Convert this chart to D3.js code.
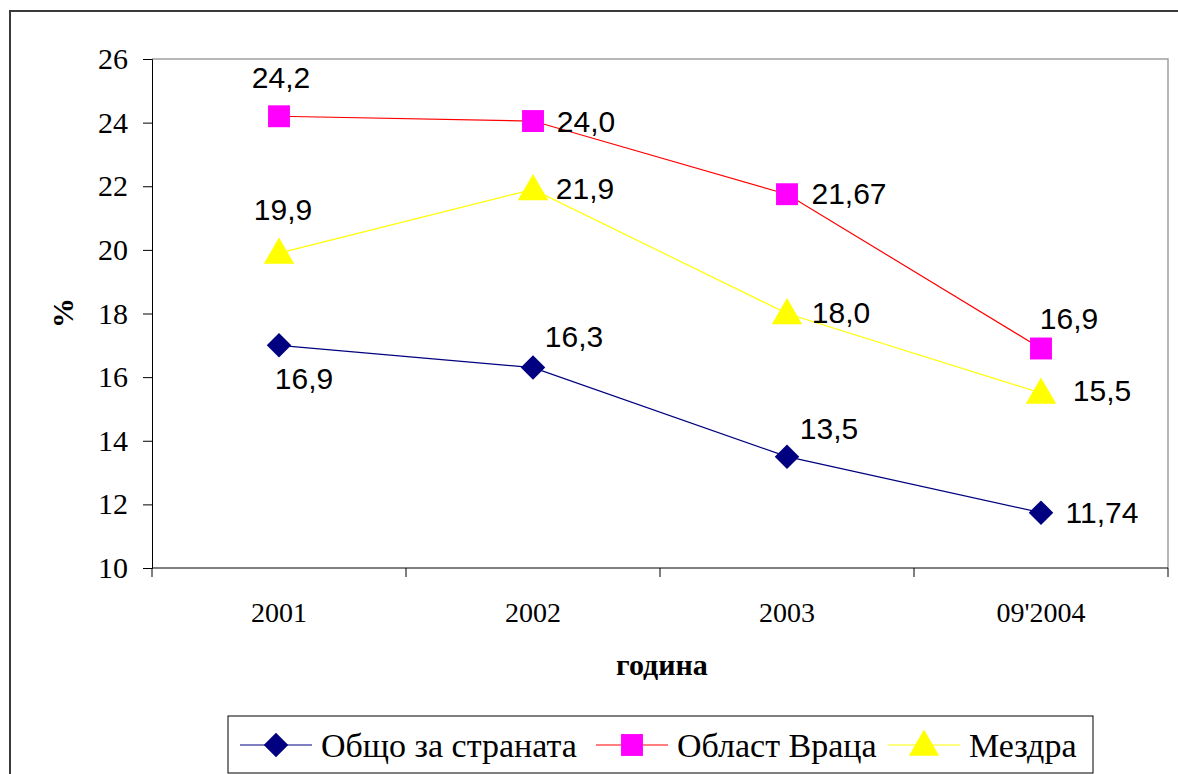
<!DOCTYPE html>
<html><head><meta charset="utf-8">
<script src="https://cdn.jsdelivr.net/npm/d3@7"></script>
<style>body{margin:0;background:#fff}svg{display:block}</style>
</head><body><svg id="c" width="1178" height="774"></svg>
<script>
const categories = ["2001", "2002", "2003", "09'2004"];
const yTicks = [10, 12, 14, 16, 18, 20, 22, 24, 26];
const seriesNames = ["Общо за страната", "Област Враца", "Мездра"];
const countryValues = [17.0, 16.3, 13.5, 11.74];
const vratsaValues = [24.2, 24.05, 21.75, 16.9];
const mezdraValues = [19.9, 21.9, 18.0, 15.5];
const countryLabels = ["16,9", "16,3", "13,5", "11,74"];
const vratsaLabels = ["24,2", "24,0", "21,67", "16,9"];
const mezdraLabels = ["19,9", "21,9", "18,0", "15,5"];
const xTitle = "година", yTitle = "%";

// layout / styles
const plot = {l: 152, t: 59, r: 1168, b: 568};
const styles = [
  {line: "#000080", fill: "#000080", shape: d3.symbolSquare, rot: 45, size: 300, dy: 0},
  {line: "#ff0000", fill: "#ff00ff", shape: d3.symbolSquare, rot: 0, size: 480, dy: 0},
  {line: "#ffff00", fill: "#ffff00", shape: d3.symbolTriangle, rot: 0, size: 400, dy: 2}
];
// label offsets [dx, dy] relative to the point
const labelOffsets = [
  [[25, 33], [41, -31], [42, -28], [61, 0]],
  [[2, -39], [53, 0], [62, -1], [28, -30]],
  [[4, -44], [52, -1], [54, -1], [61, -3]]
];

const svg = d3.select("#c");
svg.append("rect").attr("x", 10).attr("y", 11).attr("width", 1200).attr("height", 800)
  .attr("fill", "none").attr("stroke", "#3a3a3a").attr("stroke-width", 2);

const x = d3.scaleBand().domain(categories).range([plot.l, plot.r]);
const y = d3.scaleLinear().domain([10, 26]).range([plot.b, plot.t]);

// plot area border
svg.append("path").attr("d", `M${plot.l},${plot.t}H${plot.r}V${plot.b}`)
  .attr("fill", "none").attr("stroke", "#a0a0a0").attr("stroke-width", 1.5);

// y axis
const yAxis = svg.append("g").attr("transform", `translate(${plot.l},0)`)
  .call(d3.axisLeft(y).tickValues(yTicks).tickSize(9).tickPadding(15).tickFormat(d3.format("d")));
yAxis.selectAll("text").attr("font-family", "Liberation Serif").attr("font-size", 30).attr("fill", "#000");
yAxis.select(".domain").attr("stroke", "#000");
yAxis.selectAll(".tick line").attr("stroke", "#000");

// x axis with ticks at category boundaries
const xg = svg.append("g").attr("transform", `translate(0,${plot.b})`);
xg.append("line").attr("x1", plot.l).attr("x2", plot.r).attr("stroke", "#000");
const bounds = categories.map(c => x(c)).concat([plot.r]);
xg.selectAll("line.tk").data(bounds).enter().append("line").attr("class", "tk")
  .attr("x1", d => d).attr("x2", d => d).attr("y1", 0).attr("y2", 9).attr("stroke", "#000");
xg.selectAll("text").data(categories).enter().append("text")
  .attr("x", d => x(d) + x.bandwidth() / 2).attr("y", 54).attr("text-anchor", "middle")
  .attr("font-family", "Liberation Serif").attr("font-size", 28).text(d => d);

svg.append("text").attr("x", 662).attr("y", 675).attr("text-anchor", "middle")
  .attr("font-family", "Liberation Serif").attr("font-weight", "bold").attr("font-size", 30).text(xTitle);
svg.append("text").attr("transform", "translate(73,313) rotate(-90)").attr("text-anchor", "middle")
  .attr("font-family", "Liberation Serif").attr("font-weight", "bold").attr("font-size", 30).text(yTitle);

const allValues = [countryValues, vratsaValues, mezdraValues];
const allLabels = [countryLabels, vratsaLabels, mezdraLabels];
const cx = c => x(c) + x.bandwidth() / 2;
const line = d3.line().x((d, i) => cx(categories[i])).y(d => y(d));

allValues.forEach((vals, s) => {
  svg.append("path").datum(vals).attr("d", line).attr("fill", "none")
    .attr("stroke", styles[s].line).attr("stroke-width", 1.2);
});
allValues.forEach((vals, s) => {
  svg.selectAll(null).data(vals).enter().append("path")
    .attr("transform", (d, i) => `translate(${cx(categories[i])},${y(d) + styles[s].dy}) rotate(${styles[s].rot})`)
    .attr("d", d3.symbol().type(styles[s].shape).size(styles[s].size)).attr("fill", styles[s].fill);
});
allValues.forEach((vals, s) => {
  svg.selectAll(null).data(vals).enter().append("text")
    .attr("x", (d, i) => cx(categories[i]) + labelOffsets[s][i][0])
    .attr("y", (d, i) => y(d) + labelOffsets[s][i][1])
    .attr("dy", "0.35em").attr("text-anchor", "middle")
    .attr("font-family", "Liberation Sans").attr("font-size", 30)
    .text((d, i) => allLabels[s][i]);
});

// legend
const lg = svg.append("g");
lg.append("rect").attr("x", 228).attr("y", 716).attr("width", 865).attr("height", 57)
  .attr("fill", "#fff").attr("stroke", "#000").attr("stroke-width", 1);
const legendX = [240, 596, 888];
seriesNames.forEach((n, s) => {
  const g = lg.append("g").attr("transform", `translate(${legendX[s]},745)`);
  g.append("line").attr("x1", 0).attr("x2", 72).attr("stroke", styles[s].line).attr("stroke-width", 1.2);
  g.append("path").attr("transform", `translate(36,${styles[s].dy}) rotate(${styles[s].rot})`)
    .attr("d", d3.symbol().type(styles[s].shape).size(styles[s].size)).attr("fill", styles[s].fill);
  g.append("text").attr("x", 81).attr("dy", "0.35em").attr("font-family", "Liberation Serif")
    .attr("font-size", 34).text(n);
});
</script></body></html>
